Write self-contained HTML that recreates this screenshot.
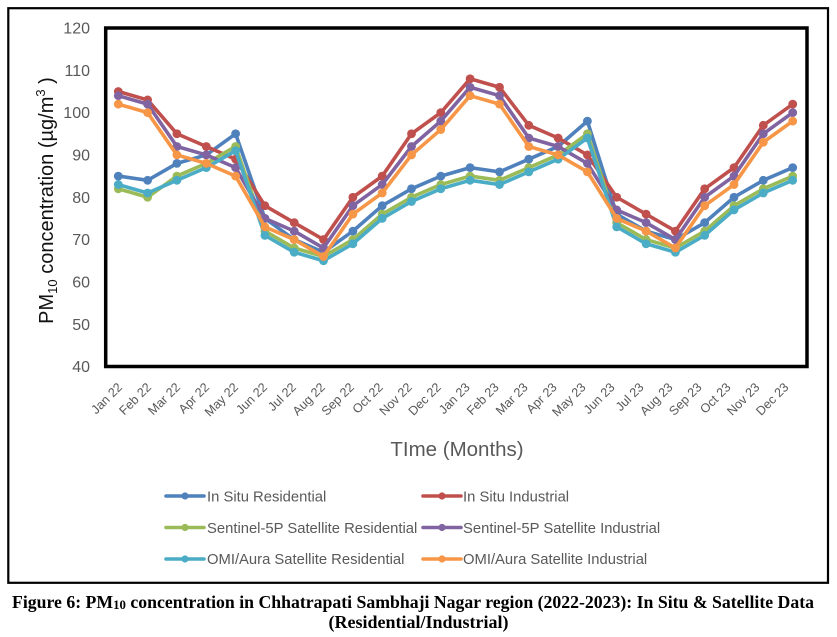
<!DOCTYPE html>
<html>
<head>
<meta charset="utf-8">
<style>
  html, body { margin: 0; padding: 0; background: #ffffff; }
  body { width: 837px; height: 637px; overflow: hidden; }
  svg { display: block; }
  .tick { font-family: "Liberation Sans", Arial, sans-serif; font-size: 16px; fill: #595959; }
  .xl { font-family: "Liberation Sans", Arial, sans-serif; font-size: 12.6px; fill: #595959; }
  .leg { font-family: "Liberation Sans", Arial, sans-serif; font-size: 14.8px; fill: #595959; }
  .cap { font-family: "Liberation Serif", "Times New Roman", serif; font-size: 18px; font-weight: bold; fill: #000; }
</style>
</head>
<body>
<svg width="837" height="637" viewBox="0 0 837 637" xmlns="http://www.w3.org/2000/svg">
  <defs>
    <marker id="mb" markerWidth="10" markerHeight="10" refX="5" refY="5" markerUnits="userSpaceOnUse"><circle cx="5" cy="5" r="4.4" fill="#4F81BD"/></marker>
    <marker id="mr" markerWidth="10" markerHeight="10" refX="5" refY="5" markerUnits="userSpaceOnUse"><circle cx="5" cy="5" r="4.4" fill="#C0504D"/></marker>
    <marker id="mg" markerWidth="10" markerHeight="10" refX="5" refY="5" markerUnits="userSpaceOnUse"><circle cx="5" cy="5" r="4.4" fill="#9BBB59"/></marker>
    <marker id="mp" markerWidth="10" markerHeight="10" refX="5" refY="5" markerUnits="userSpaceOnUse"><circle cx="5" cy="5" r="4.4" fill="#8064A2"/></marker>
    <marker id="ma" markerWidth="10" markerHeight="10" refX="5" refY="5" markerUnits="userSpaceOnUse"><circle cx="5" cy="5" r="4.4" fill="#4BACC6"/></marker>
    <marker id="mo" markerWidth="10" markerHeight="10" refX="5" refY="5" markerUnits="userSpaceOnUse"><circle cx="5" cy="5" r="4.4" fill="#F79646"/></marker>
  </defs>

  <rect x="0" y="0" width="837" height="637" fill="#ffffff"/>

  <!-- outer frame -->
  <rect x="8.3" y="8.2" width="819.7" height="574.6" fill="none" stroke="#000" stroke-width="2.2"/>

  <!-- y tick labels -->
  <text class="tick" x="90" y="33.6" text-anchor="end">120</text>
  <text class="tick" x="90" y="75.9" text-anchor="end">110</text>
  <text class="tick" x="90" y="118.2" text-anchor="end">100</text>
  <text class="tick" x="90" y="160.5" text-anchor="end">90</text>
  <text class="tick" x="90" y="202.8" text-anchor="end">80</text>
  <text class="tick" x="90" y="245.2" text-anchor="end">70</text>
  <text class="tick" x="90" y="287.5" text-anchor="end">60</text>
  <text class="tick" x="90" y="329.8" text-anchor="end">50</text>
  <text class="tick" x="90" y="372.1" text-anchor="end">40</text>

  <!-- y axis title -->
  <text transform="translate(53,200.5) rotate(-90)" text-anchor="middle" font-family="Liberation Sans, Arial, sans-serif" font-size="20" fill="#111">PM<tspan font-size="13" dy="4">10</tspan><tspan dy="-4"> concentration (µg/m</tspan><tspan font-size="13" dy="-8">3</tspan><tspan dy="8"> )</tspan></text>

  <!-- series -->
  <g fill="none" stroke-width="3.6" stroke-linejoin="round" stroke-linecap="round">
    <polyline stroke="#4F81BD" marker-start="url(#mb)" marker-mid="url(#mb)" marker-end="url(#mb)"
      points="118.3,176.09 147.6,180.32 176.9,163.40 206.3,154.94 235.6,133.78 264.9,218.41 294.2,239.56 323.5,252.26 352.9,231.10 382.2,205.71 411.5,188.79 440.8,176.09 470.1,167.63 499.5,171.86 528.8,159.17 558.1,146.47 587.4,121.09 616.7,214.17 646.1,231.10 675.4,239.56 704.7,222.64 734.0,197.25 763.3,180.32 792.7,167.63"/>
    <polyline stroke="#C0504D" marker-start="url(#mr)" marker-mid="url(#mr)" marker-end="url(#mr)"
      points="118.3,91.47 147.6,99.93 176.9,133.78 206.3,146.47 235.6,159.17 264.9,205.71 294.2,222.64 323.5,239.56 352.9,197.25 382.2,176.09 411.5,133.78 440.8,112.62 470.1,78.77 499.5,87.24 528.8,125.32 558.1,138.01 587.4,154.94 616.7,197.25 646.1,214.17 675.4,231.10 704.7,188.79 734.0,167.63 763.3,125.32 792.7,104.16"/>
    <polyline stroke="#9BBB59" marker-start="url(#mg)" marker-mid="url(#mg)" marker-end="url(#mg)"
      points="118.3,188.79 147.6,197.25 176.9,176.09 206.3,163.40 235.6,146.47 264.9,231.10 294.2,248.02 323.5,256.49 352.9,239.56 382.2,214.17 411.5,197.25 440.8,184.56 470.1,176.09 499.5,180.32 528.8,167.63 558.1,154.94 587.4,133.78 616.7,222.64 646.1,239.56 675.4,248.02 704.7,231.10 734.0,205.71 763.3,188.79 792.7,176.09"/>
    <polyline stroke="#8064A2" marker-start="url(#mp)" marker-mid="url(#mp)" marker-end="url(#mp)"
      points="118.3,95.70 147.6,104.16 176.9,146.47 206.3,154.94 235.6,167.63 264.9,218.41 294.2,231.10 323.5,248.02 352.9,205.71 382.2,184.56 411.5,146.47 440.8,121.09 470.1,87.24 499.5,95.70 528.8,138.01 558.1,146.47 587.4,163.40 616.7,209.94 646.1,222.64 675.4,239.56 704.7,197.25 734.0,176.09 763.3,133.78 792.7,112.62"/>
    <polyline stroke="#4BACC6" marker-start="url(#ma)" marker-mid="url(#ma)" marker-end="url(#ma)"
      points="118.3,184.56 147.6,193.02 176.9,180.32 206.3,167.63 235.6,150.71 264.9,235.33 294.2,252.26 323.5,260.72 352.9,243.79 382.2,218.41 411.5,201.48 440.8,188.79 470.1,180.32 499.5,184.56 528.8,171.86 558.1,159.17 587.4,138.01 616.7,226.87 646.1,243.79 675.4,252.26 704.7,235.33 734.0,209.94 763.3,193.02 792.7,180.32"/>
    <polyline stroke="#F79646" marker-start="url(#mo)" marker-mid="url(#mo)" marker-end="url(#mo)"
      points="118.3,104.16 147.6,112.62 176.9,154.94 206.3,163.40 235.6,176.09 264.9,226.87 294.2,239.56 323.5,256.49 352.9,214.17 382.2,193.02 411.5,154.94 440.8,129.55 470.1,95.70 499.5,104.16 528.8,146.47 558.1,154.94 587.4,171.86 616.7,218.41 646.1,231.10 675.4,248.02 704.7,205.71 734.0,184.56 763.3,142.24 792.7,121.09"/>
  </g>

  <!-- plot box -->
  <rect x="105.7" y="28" width="701.3" height="338.5" fill="none" stroke="#000" stroke-width="3.5"/>

  <!-- x labels -->
  <g class="xl" text-anchor="end">
    <text transform="translate(123.0,388) rotate(-45)">Jan 22</text>
    <text transform="translate(152.0,388) rotate(-45)">Feb 22</text>
    <text transform="translate(180.9,388) rotate(-45)">Mar 22</text>
    <text transform="translate(209.9,388) rotate(-45)">Apr 22</text>
    <text transform="translate(238.9,388) rotate(-45)">May 22</text>
    <text transform="translate(267.9,388) rotate(-45)">Jun 22</text>
    <text transform="translate(296.8,388) rotate(-45)">Jul 22</text>
    <text transform="translate(325.8,388) rotate(-45)">Aug 22</text>
    <text transform="translate(354.8,388) rotate(-45)">Sep 22</text>
    <text transform="translate(383.7,388) rotate(-45)">Oct 22</text>
    <text transform="translate(412.7,388) rotate(-45)">Nov 22</text>
    <text transform="translate(441.7,388) rotate(-45)">Dec 22</text>
    <text transform="translate(470.6,388) rotate(-45)">Jan 23</text>
    <text transform="translate(499.6,388) rotate(-45)">Feb 23</text>
    <text transform="translate(528.6,388) rotate(-45)">Mar 23</text>
    <text transform="translate(557.6,388) rotate(-45)">Apr 23</text>
    <text transform="translate(586.5,388) rotate(-45)">May 23</text>
    <text transform="translate(615.5,388) rotate(-45)">Jun 23</text>
    <text transform="translate(644.5,388) rotate(-45)">Jul 23</text>
    <text transform="translate(673.4,388) rotate(-45)">Aug 23</text>
    <text transform="translate(702.4,388) rotate(-45)">Sep 23</text>
    <text transform="translate(731.4,388) rotate(-45)">Oct 23</text>
    <text transform="translate(760.3,388) rotate(-45)">Nov 23</text>
    <text transform="translate(789.3,388) rotate(-45)">Dec 23</text>
  </g>

  <!-- x axis title -->
  <text x="457" y="456" text-anchor="middle" font-family="Liberation Sans, Arial, sans-serif" font-size="20.5" fill="#595959">TIme (Months)</text>

  <!-- legend -->
  <g stroke-width="3.6" stroke-linecap="round">
    <line x1="166" y1="496" x2="204" y2="496" stroke="#4F81BD"/>
    <line x1="423" y1="496" x2="461" y2="496" stroke="#C0504D"/>
    <line x1="166" y1="527.5" x2="204" y2="527.5" stroke="#9BBB59"/>
    <line x1="423" y1="527.5" x2="461" y2="527.5" stroke="#8064A2"/>
    <line x1="166" y1="559" x2="204" y2="559" stroke="#4BACC6"/>
    <line x1="423" y1="559" x2="461" y2="559" stroke="#F79646"/>
  </g>
  <circle cx="185" cy="496" r="3.6" fill="#4F81BD"/>
  <circle cx="442" cy="496" r="3.6" fill="#C0504D"/>
  <circle cx="185" cy="527.5" r="3.6" fill="#9BBB59"/>
  <circle cx="442" cy="527.5" r="3.6" fill="#8064A2"/>
  <circle cx="185" cy="559" r="3.6" fill="#4BACC6"/>
  <circle cx="442" cy="559" r="3.6" fill="#F79646"/>
  <text class="leg" x="207" y="501.5">In Situ Residential</text>
  <text class="leg" x="463" y="501.5">In Situ Industrial</text>
  <text class="leg" x="207" y="533">Sentinel-5P Satellite Residential</text>
  <text class="leg" x="463" y="533">Sentinel-5P Satellite Industrial</text>
  <text class="leg" x="207" y="564">OMI/Aura Satellite Residential</text>
  <text class="leg" x="463" y="564">OMI/Aura Satellite Industrial</text>

  <!-- caption -->
  <text class="cap" x="12" y="608" textLength="802" lengthAdjust="spacingAndGlyphs">Figure 6: PM<tspan font-size="13" dy="1">10</tspan><tspan dy="-1"> concentration in Chhatrapati Sambhaji Nagar region (2022-2023): In Situ &amp; Satellite Data</tspan></text>
  <text class="cap" x="418.5" y="628" text-anchor="middle">(Residential/Industrial)</text>
</svg>
</body>
</html>
